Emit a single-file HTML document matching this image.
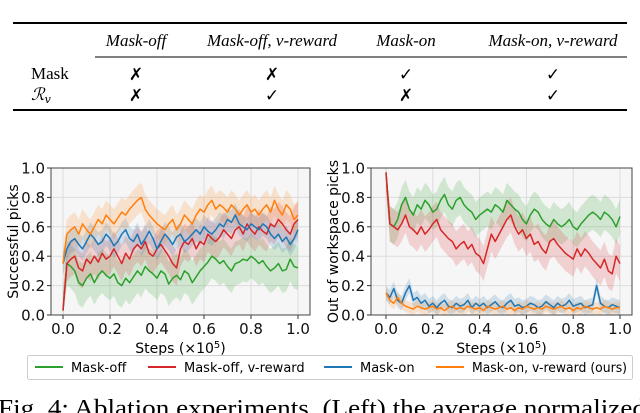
<!DOCTYPE html>
<html><head><meta charset="utf-8"><style>
html,body{margin:0;padding:0;background:#fff;width:640px;height:413px;overflow:hidden}
svg{display:block}
.ser{font-family:"Liberation Serif",serif}
.sans{font-family:"DejaVu Sans","Liberation Sans",sans-serif}
</style></head><body>
<svg id="fig" width="640" height="413" viewBox="0 0 640 413">
<g class="ser" font-size="17">
<line x1="13" y1="23" x2="627" y2="23" stroke="#000" stroke-width="2"/>
<line x1="95" y1="57" x2="627" y2="57" stroke="#000" stroke-width="1"/>
<line x1="13" y1="110" x2="627" y2="110" stroke="#000" stroke-width="2"/>
<g font-style="italic" text-anchor="middle">
<text x="136" y="46">Mask-off</text>
<text x="272" y="46">Mask-off, v-reward</text>
<text x="406" y="46">Mask-on</text>
<text x="553" y="46">Mask-on, v-reward</text>
</g>
<text x="31" y="79">Mask</text>
<text x="31" y="100" font-style="italic" font-family="DejaVu Serif,serif">ℛ<tspan font-size="11" dy="3">v</tspan></text>
<g text-anchor="middle" font-family="DejaVu Sans,sans-serif" font-size="17" font-weight="bold">
<text x="136" y="80">✗</text><text x="272" y="80">✗</text><text x="406" y="80">✓</text><text x="553" y="80">✓</text>
<text x="136" y="101">✗</text><text x="272" y="101">✓</text><text x="406" y="101">✗</text><text x="553" y="101">✓</text>
</g>
</g>
<g id="left"></g>
<g id="right"></g>
<g class="sans" font-size="13">
<rect x="27.5" y="355.5" width="605" height="24" rx="2" fill="#fff" stroke="#ccc"/>
<line x1="35" y1="367" x2="63" y2="367" stroke="#2ca02c" stroke-width="2"/>
<text x="71" y="372">Mask-off</text>
<line x1="148" y1="367" x2="176" y2="367" stroke="#d62728" stroke-width="2"/>
<text x="184" y="372">Mask-off, v-reward</text>
<line x1="324" y1="367" x2="352" y2="367" stroke="#1f77b4" stroke-width="2"/>
<text x="360" y="372">Mask-on</text>
<line x1="436" y1="367" x2="464" y2="367" stroke="#ff7f0e" stroke-width="2"/>
<text x="472" y="372" textLength="155" lengthAdjust="spacingAndGlyphs">Mask-on, v-reward (ours)</text>
</g>
<text x="-2" y="416" class="ser" font-size="24" textLength="648" lengthAdjust="spacingAndGlyphs">Fig. 4: Ablation experiments. (Left) the average normalized</text>
</svg>
<script>
const xTicks=["0.0","0.2","0.4","0.6","0.8","1.0"];
const yTicks=["0.0","0.2","0.4","0.6","0.8","1.0"];
const seriesNames=["Mask-off","Mask-off, v-reward","Mask-on","Mask-on, v-reward (ours)"];
const seriesColors=["#2ca02c","#d62728","#1f77b4","#ff7f0e"];
const leftGreen=[0.03,0.35,0.33,0.30,0.22,0.20,0.25,0.28,0.22,0.27,0.30,0.27,0.25,0.28,0.22,0.20,0.25,0.22,0.26,0.30,0.27,0.33,0.30,0.28,0.25,0.30,0.28,0.21,0.25,0.27,0.24,0.30,0.28,0.22,0.26,0.30,0.33,0.36,0.40,0.38,0.35,0.37,0.33,0.30,0.35,0.36,0.38,0.37,0.40,0.38,0.35,0.37,0.33,0.30,0.32,0.35,0.30,0.31,0.38,0.33,0.32];
const leftRed=[0.03,0.35,0.38,0.40,0.32,0.30,0.38,0.35,0.40,0.36,0.42,0.38,0.40,0.45,0.40,0.35,0.42,0.38,0.45,0.48,0.45,0.50,0.42,0.40,0.45,0.48,0.44,0.40,0.35,0.32,0.45,0.50,0.48,0.52,0.45,0.50,0.48,0.55,0.52,0.50,0.53,0.58,0.55,0.52,0.58,0.60,0.55,0.62,0.58,0.55,0.60,0.57,0.55,0.62,0.60,0.65,0.62,0.58,0.55,0.62,0.65];
const leftBlue=[0.35,0.45,0.50,0.52,0.48,0.45,0.50,0.55,0.52,0.48,0.50,0.55,0.52,0.47,0.50,0.55,0.58,0.52,0.50,0.55,0.48,0.52,0.57,0.52,0.45,0.50,0.55,0.52,0.48,0.53,0.55,0.50,0.52,0.55,0.58,0.55,0.60,0.57,0.55,0.58,0.62,0.60,0.65,0.63,0.68,0.62,0.60,0.58,0.62,0.60,0.58,0.62,0.60,0.55,0.52,0.55,0.50,0.53,0.48,0.52,0.58];
const leftOrange=[0.35,0.55,0.58,0.60,0.55,0.62,0.58,0.55,0.60,0.65,0.62,0.68,0.65,0.62,0.66,0.70,0.68,0.72,0.75,0.78,0.80,0.72,0.68,0.65,0.62,0.60,0.58,0.62,0.65,0.58,0.62,0.68,0.65,0.62,0.68,0.72,0.70,0.75,0.78,0.72,0.75,0.73,0.70,0.75,0.72,0.68,0.72,0.75,0.70,0.72,0.68,0.72,0.75,0.70,0.78,0.72,0.68,0.75,0.72,0.65,0.68];
const leftSpread=[0.15,0.12,0.08,0.10];
const rightGreen=[0.97,0.62,0.60,0.65,0.75,0.80,0.72,0.68,0.75,0.72,0.78,0.75,0.70,0.72,0.78,0.82,0.75,0.72,0.78,0.80,0.75,0.72,0.70,0.65,0.68,0.70,0.72,0.70,0.75,0.73,0.70,0.78,0.75,0.72,0.70,0.65,0.62,0.68,0.72,0.70,0.65,0.62,0.60,0.65,0.62,0.60,0.62,0.65,0.60,0.58,0.62,0.65,0.68,0.70,0.68,0.65,0.70,0.68,0.65,0.60,0.67];
const rightRed=[0.97,0.62,0.60,0.58,0.62,0.68,0.60,0.58,0.55,0.60,0.55,0.58,0.62,0.65,0.58,0.55,0.52,0.50,0.45,0.48,0.50,0.45,0.48,0.42,0.40,0.35,0.45,0.55,0.50,0.55,0.60,0.65,0.68,0.60,0.55,0.58,0.52,0.55,0.48,0.50,0.45,0.42,0.50,0.52,0.48,0.45,0.42,0.40,0.38,0.45,0.40,0.45,0.42,0.38,0.35,0.32,0.38,0.30,0.28,0.40,0.35];
const rightBlue=[0.15,0.12,0.18,0.10,0.08,0.15,0.20,0.10,0.12,0.08,0.10,0.06,0.08,0.05,0.08,0.10,0.06,0.05,0.08,0.06,0.07,0.10,0.05,0.08,0.06,0.08,0.05,0.07,0.09,0.06,0.05,0.08,0.10,0.06,0.07,0.05,0.06,0.08,0.07,0.05,0.06,0.09,0.07,0.05,0.08,0.06,0.07,0.10,0.06,0.07,0.08,0.05,0.06,0.07,0.20,0.08,0.06,0.05,0.07,0.06,0.05];
const rightOrange=[0.15,0.10,0.08,0.12,0.08,0.06,0.05,0.04,0.06,0.05,0.04,0.05,0.06,0.04,0.05,0.03,0.05,0.06,0.04,0.05,0.04,0.06,0.05,0.04,0.05,0.03,0.06,0.05,0.04,0.05,0.06,0.04,0.05,0.03,0.05,0.04,0.06,0.05,0.04,0.05,0.04,0.06,0.05,0.04,0.05,0.06,0.04,0.05,0.03,0.05,0.04,0.06,0.05,0.04,0.05,0.04,0.06,0.05,0.04,0.05,0.05];
const rightSpread=[0.12,0.12,0.05,0.04];

const NS="http://www.w3.org/2000/svg";
function mk(parent,tag,attrs){const e=document.createElementNS(NS,tag);for(const k in attrs)e.setAttribute(k,attrs[k]);parent.appendChild(e);return e;}

function drawChart(g,box,ylabel,series,spreads,prefix){
  const xs=v=>box.x0+(box.x1-box.x0)*v;
  const ys=v=>box.yb-(box.yb-box.yt)*v;
  const bg=mk(g,'rect',{x:box.l,y:box.yt,width:box.r-box.l,height:box.yb-box.yt,fill:'#f6f6f6'});
  
  
  xTicks.forEach(t=>{const v=parseFloat(t);const X=xs(v);
    mk(g,'line',{x1:X,x2:X,y1:box.yt,y2:box.yb,stroke:'#dcdcdc','stroke-width':1});
    mk(g,'line',{x1:X,x2:X,y1:box.yb,y2:box.yb+4,stroke:'#333'});
    const tx=mk(g,'text',{x:X,y:box.yb+19,'text-anchor':'middle','font-size':15,class:'sans',fill:'#111'});tx.textContent=t;
    
    });
  yTicks.forEach(t=>{const v=parseFloat(t);const Y=ys(v);
    mk(g,'line',{x1:box.l,x2:box.r,y1:Y,y2:Y,stroke:'#dcdcdc','stroke-width':1});
    mk(g,'line',{x1:box.l-4,x2:box.l,y1:Y,y2:Y,stroke:'#333'});
    const tx=mk(g,'text',{x:box.l-6,y:Y+5.5,'text-anchor':'end','font-size':15,class:'sans',fill:'#111'});tx.textContent=t;
    
    });
  series.forEach((d,i)=>{const n=d.length;
    const up=d.map((v,j)=>xs(j/(n-1))+','+ys(Math.min(1,v+spreads[i])));
    const dn=d.map((v,j)=>xs(j/(n-1))+','+ys(Math.max(0,v-spreads[i]))).reverse();
    const band=mk(g,'polygon',{points:up.concat(dn).join(' '),fill:seriesColors[i],'fill-opacity':0.18});
    
    });
  series.forEach((d,i)=>{const n=d.length;
    const pl=mk(g,'polyline',{points:d.map((v,j)=>xs(j/(n-1))+','+ys(v)).join(' '),fill:'none',stroke:seriesColors[i],'stroke-width':1.5,'stroke-linejoin':'round'});
    
    });
  mk(g,'rect',{x:box.l,y:box.yt,width:box.r-box.l,height:box.yb-box.yt,fill:'none',stroke:'#444','stroke-width':1});
  const xl=mk(g,'text',{x:(box.l+box.r)/2,y:box.yb+38,'text-anchor':'middle','font-size':14,class:'sans'});
  xl.innerHTML='Steps (×10<tspan font-size="10" dy="-5">5</tspan><tspan dy="5">)</tspan>';
  
  
  const cy=(box.yt+box.yb)/2;
  const yl=mk(g,'text',{x:box.ylx,y:cy,'text-anchor':'middle','font-size':14,class:'sans',transform:'rotate(-90 '+box.ylx+' '+cy+')'});
  yl.textContent=ylabel;
  
  
}
drawChart(document.getElementById('left'),{l:51,r:310,x0:63,x1:298,yt:168,yb:315,ylx:18},'Successful picks',[leftGreen,leftRed,leftBlue,leftOrange],leftSpread,'left');
drawChart(document.getElementById('right'),{l:371,r:632,x0:386,x1:620,yt:168,yb:315,ylx:338},'Out of workspace picks',[rightGreen,rightRed,rightBlue,rightOrange],rightSpread,'right');
</script>
</body></html>
